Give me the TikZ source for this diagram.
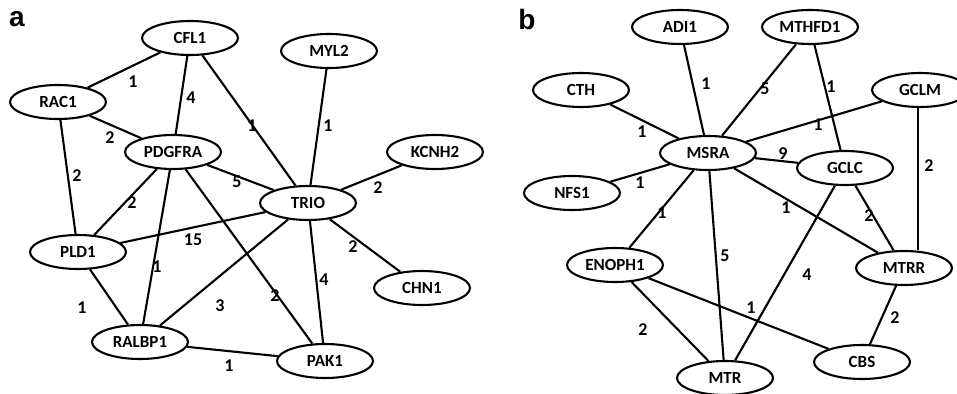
\documentclass[tikz,border=0pt]{standalone}
\usepackage{fontspec}
\setmainfont{Carlito}
\newfontfamily\panelfont{Liberation Sans}
\tikzset{
  gene/.style={draw, ellipse, line width=2.1pt, minimum width=96pt, minimum height=34pt,
    inner sep=0pt, font=\fontsize{17}{19}\selectfont\bfseries},
  wt/.style={inner sep=0pt, font=\fontsize{18}{20}\selectfont\bfseries},
  panel/.style={inner sep=0pt, font=\fontsize{28}{30}\selectfont\panelfont\bfseries}
}
\usetikzlibrary{shapes.geometric}
\begin{document}
\begin{tikzpicture}[x=1pt, y=-1pt, line width=2.1pt]
  \clip (0,0) rectangle (957,393);
  \fill[white] (0,0) rectangle (957,393);
  % panel a
  \node[panel] (pa) at (17,19) {a};
  \node[gene] (CFL1) at (190,38) {CFL1};
  \node[gene] (MYL2) at (329,51) {MYL2};
  \node[gene] (RAC1) at (58,102) {RAC1};
  \node[gene] (PDGFRA) at (173,152) {PDGFRA};
  \node[gene] (KCNH2) at (435,152) {KCNH2};
  \node[gene] (TRIO) at (308,203) {TRIO};
  \node[gene] (PLD1) at (78,252) {PLD1};
  \node[gene] (CHN1) at (422,288) {CHN1};
  \node[gene] (RALBP1) at (140,342) {RALBP1};
  \node[gene] (PAK1) at (325,361) {PAK1};
  \foreach \u/\v in {CFL1/RAC1, CFL1/PDGFRA, CFL1/TRIO, MYL2/TRIO, RAC1/PDGFRA,
      RAC1/PLD1, PDGFRA/TRIO, KCNH2/TRIO, PDGFRA/PLD1, PLD1/TRIO, PDGFRA/RALBP1,
      PDGFRA/PAK1, TRIO/RALBP1, TRIO/PAK1, TRIO/CHN1, PLD1/RALBP1, RALBP1/PAK1}
    \draw (\u) -- (\v);
  \foreach \x/\y/\t [count=\i] in {133/82/1, 191/98/4, 252/126/1, 328/126/1,
      110/138/2, 77/176/2, 237/182/5, 378/188/2, 132/203/2, 193/240/15, 157/267/1,
      275/296/2, 220/306/3, 324/280/4, 353/247/2, 82/308/1, 229/366/1}
    \node[wt] (wa\i) at (\x,\y) {\t};
  % panel b
  \node[panel] (pb) at (527,19) {b};
  \node[gene] (ADI1) at (680,27) {ADI1};
  \node[gene] (MTHFD1) at (810,27) {MTHFD1};
  \node[gene] (CTH) at (581,90) {CTH};
  \node[gene] (GCLM) at (920,90) {GCLM};
  \node[gene] (MSRA) at (708,153) {MSRA};
  \node[gene] (GCLC) at (845,168) {GCLC};
  \node[gene] (NFS1) at (572,193) {NFS1};
  \node[gene] (ENOPH1) at (615,265) {ENOPH1};
  \node[gene] (MTRR) at (904,268) {MTRR};
  \node[gene] (CBS) at (862,362) {CBS};
  \node[gene] (MTR) at (725,378) {MTR};
  \foreach \u/\v in {ADI1/MSRA, MTHFD1/MSRA, MTHFD1/GCLC, CTH/MSRA, GCLM/MSRA,
      MSRA/GCLC, NFS1/MSRA, MSRA/ENOPH1, MSRA/MTR, MSRA/MTRR, GCLC/MTR,
      GCLC/MTRR, ENOPH1/CBS, ENOPH1/MTR, MTRR/CBS}
    \draw (\u) -- (\v);
  \draw (GCLM.south -| 918,0) -- (MTRR.north -| 918,0);
  \foreach \x/\y/\t [count=\i] in {706/84/1, 765/89/5, 831/87/1, 642/132/1,
      818/125/1, 783/154/9, 640/183/1, 929/166/2, 662/213/1, 725/256/5,
      786/208/1, 807/275/4, 869/216/2, 751/308/1, 643/330/2, 895/318/2}
    \node[wt] (wb\i) at (\x,\y) {\t};
\end{tikzpicture}
\end{document}
